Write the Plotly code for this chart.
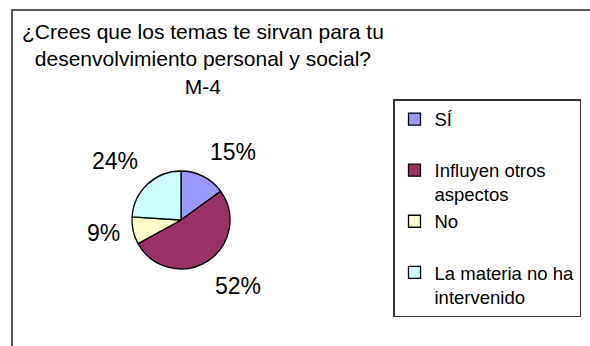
import math
import plotly.graph_objects as go

# Survey answers (share of students, %)
labels = ["SÍ", "Influyen otros aspectos", "No", "La materia no ha intervenido"]
legend_names = ["SÍ<br> ", "Influyen otros<br>aspectos", "No<br> ", "La materia no ha<br>intervenido"]
values = [15, 52, 9, 24]
colors = ["#9999FF", "#993366", "#FFFFCC", "#CCFFFF"]

title_lines = ["¿Crees que los temas te sirvan para tu",
               "desenvolvimiento personal y social?",
               "M-4"]

W, H = 590, 346
FONT = "Arial, 'Liberation Sans', sans-serif"

# pie geometry in pixels (center and radius)
pie_cx, pie_cy, pie_r = 181, 220, 49
dom_x = [(pie_cx - pie_r) / W, (pie_cx + pie_r) / W]
dom_y = [1 - (pie_cy + pie_r) / H, 1 - (pie_cy - pie_r) / H]

fig = go.Figure()
fig.add_trace(go.Pie(
    labels=legend_names,
    values=values,
    sort=False,
    direction="clockwise",
    rotation=0,
    marker=dict(colors=colors, line=dict(color="#000000", width=1.3)),
    textinfo="none",
    hoverinfo="label+percent",
    domain=dict(x=dom_x, y=dom_y),
))

# percentage labels placed outside each slice, along its mid angle
annotations = []
total = sum(values)
cum = 0
gap = 11
for v in values:
    mid = (cum + v / 2) / total * 2 * math.pi
    cum += v
    s, c = math.sin(mid), math.cos(mid)
    px = pie_cx + (pie_r + gap) * s
    py = pie_cy - (pie_r + gap) * c
    xa = "left" if s > 0 else "right"
    if abs(c) < 0.4:
        ya = "middle"
    else:
        ya = "bottom" if c > 0 else "top"
    annotations.append(dict(
        x=px / W, y=1 - py / H, xref="paper", yref="paper",
        text=f"{round(v / total * 100)}%", showarrow=False,
        xanchor=xa, yanchor=ya,
        font=dict(family=FONT, size=23, color="#000000"),
    ))

# chart title
annotations.append(dict(
    x=203 / W, y=1 - 18 / H, xref="paper", yref="paper",
    text="<br>".join(title_lines), showarrow=False,
    xanchor="center", yanchor="top", align="center",
    font=dict(family=FONT, size=21, color="#000000"),
))

fig.update_layout(
    width=W, height=H,
    margin=dict(l=0, r=0, t=0, b=0),
    paper_bgcolor="#FFFFFF",
    plot_bgcolor="#FFFFFF",
    showlegend=True,
    legend=dict(
        x=393 / W, y=1 - 99 / H, xanchor="left", yanchor="top",
        bgcolor="#FFFFFF", bordercolor="#333333", borderwidth=1.5,
        valign="top", traceorder="normal",
        font=dict(family=FONT, size=18.5, color="#000000"),
    ),
    annotations=annotations,
    shapes=[dict(
        type="rect", xref="paper", yref="paper",
        x0=12 / W, x1=1.05, y0=-0.05, y1=1 - 10 / H,
        line=dict(color="#222222", width=1.5),
        fillcolor="rgba(0,0,0,0)", layer="below",
    )],
)

fig.write_html("out.html")
